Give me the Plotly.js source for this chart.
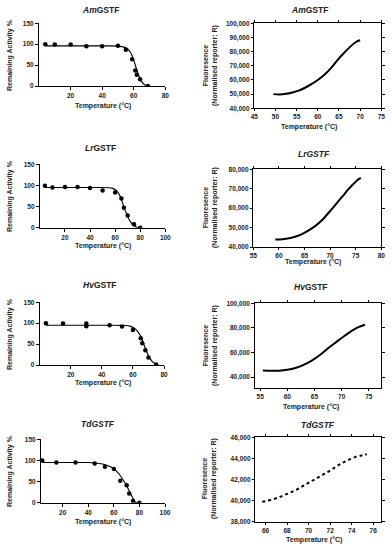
<!DOCTYPE html>
<html><head><meta charset="utf-8">
<script src="https://cdn.plot.ly/plotly-3.0.1.min.js"></script>
<style>html,body{margin:0;padding:0;background:#fff}#chart{width:392px;height:550px}</style>
</head><body><div id="chart"></div>
<script>
// ---- Data: thermal inactivation (remaining activity %) ----
const amTemp=[4,10,20,30,40,50,55,59,61,62,64,69];
const amAct=[100,99,99,95,95,96,87,64,37,27,16,0];
const amFitT=[4,20,40,50,54,56,58,59,60,61,62,63,64,65,66,68,69.5];
const amFitA=[96,96,96,95.5,93,89,80,72,62,50,38,27,18,11,6,1,0];

const lrTemp=[4,10,20,30,40,50,60,65,67,70,75,80];
const lrAct=[99,95,96,96,94,88,83,69,47,29,8,0];
const lrFitT=[4,20,40,55,58,61,63,65,67,69.5,72,75,78,80];
const lrFitA=[95,95,95,94.5,93,88,80,67,48,30,15,5,0.5,0];

const hvTemp=[4,15,30,30,45,53,60,65,66,68,70,75];
const hvAct=[100,99,99,93,95,92,84,64,52,35,18,1];
const hvFitT=[4,20,40,55,58,61,63.5,65.5,67,68.5,70.3,72.5,75];
const hvFitA=[95,95,95,94.5,93,88,78,65,50,35,20,8,0.5];

const tdTemp=[4,15,30,45,53,60,65,70,72,75,80];
const tdAct=[100,95,95,93,85,80,52,41,22,4,0];
const tdFitT=[4,20,40,45,50,55,60,64,67,70,72.5,75,77,80];
const tdFitA=[95,95,95,94,92,88,80,68,55,40,25,10,1,0];

// ---- Data: thermal shift (fluorescence) ----
const amMeltT=[49.5,51,52.5,54,55.5,57,58.5,60,61.5,63,64.5,66,67.5,69,70];
const amMeltF=[50000,49700,50200,51200,52500,54500,57000,60000,63500,68000,73500,78500,83000,86800,88000];

const lrMeltT=[59.3,60.7,62,63.3,64.6,65.9,67.2,68.5,69.5,70.5,71.5,72.5,73.5,74.5,75.3,76];
const lrMeltF=[43900,44000,44500,45400,46800,48700,51000,54000,57000,60000,63200,66300,69500,72300,74400,75600];

const hvMeltT=[55.5,57,58.5,60,61.5,63,64.5,66,67.5,69,70.5,72,73.2,74.3];
const hvMeltF=[45500,45200,45300,46000,47500,50000,53500,58000,63500,68500,73500,78000,80800,82600];

const tdMeltT=[65.7,66,66.6,67.2,67.8,68.4,69,69.6,70.2,70.8,71.4,72,72.6,73.2,73.8,74.4,75,75.4];
const tdMeltF=[39900,39950,40100,40300,40550,40800,41100,41450,41800,42150,42500,42850,43250,43600,43900,44150,44300,44400];

const titles=['<i>Am</i>GSTF','<i>Am</i>GSTF','<i>Lr</i>GSTF','<i>LrGSTF</i>','<i>Hv</i>GSTF','<i>Hv</i>GSTF','<i>TdGSTF</i>','<i>TdGSTF</i>'];

// ---- Layout helpers ----
const W=392,H=550;
const xd=(a,b)=>[a/W,b/W];
const yd=(t,b)=>[1-b/H,1-t/H];
const FONT='Liberation Sans, Arial, sans-serif';
const tickFont={family:FONT,size:6.5,color:'#222',weight:'bold'};

const traces=[];
function actPanel(n,t,a,ft,fa){
  traces.push({x:ft,y:fa,xaxis:'x'+n,yaxis:'y'+n,mode:'lines',line:{color:'#000',width:1.1,shape:'spline'},hoverinfo:'skip'});
  traces.push({x:t,y:a,xaxis:'x'+n,yaxis:'y'+n,mode:'markers',marker:{color:'#000',symbol:'circle',size:4.5}});
}
function meltPanel(n,t,f,dotted){
  traces.push({x:t,y:f,xaxis:'x'+n,yaxis:'y'+n,mode:'lines',
    line:{color:'#000',width:2,shape:'spline',dash:dotted?'dot':'solid'}});
}
actPanel(1,amTemp,amAct,amFitT,amFitA);
meltPanel(2,amMeltT,amMeltF,false);
actPanel(3,lrTemp,lrAct,lrFitT,lrFitA);
meltPanel(4,lrMeltT,lrMeltF,false);
actPanel(5,hvTemp,hvAct,hvFitT,hvFitA);
meltPanel(6,hvMeltT,hvMeltF,false);
actPanel(7,tdTemp,tdAct,tdFitT,tdFitA);
meltPanel(8,tdMeltT,tdMeltF,true);

const layout={width:W,height:H,margin:{l:0,r:0,t:0,b:0},showlegend:false,
  paper_bgcolor:'#fff',plot_bgcolor:'#fff',font:{family:FONT,color:'#222'},annotations:[]};

function leftAxes(n,xdom,ydom,xr,xt){
  layout['xaxis'+n]={domain:xdom,range:xr,tickvals:xt,anchor:'y'+n,showgrid:false,zeroline:false,
    showline:true,linecolor:'#000',linewidth:1,ticks:'outside',ticklen:3,tickwidth:1,tickcolor:'#000',tickfont:tickFont};
  layout['yaxis'+n]={domain:ydom,range:[0,150],tickvals:[0,50,100,150],anchor:'x'+n,showgrid:false,zeroline:false,
    showline:true,linecolor:'#000',linewidth:1,ticks:'outside',ticklen:3,tickwidth:1,tickcolor:'#000',tickfont:tickFont};
}
function rightAxes(n,xdom,ydom,xr,xt,yr,yt){
  layout['xaxis'+n]={domain:xdom,range:xr,tickvals:xt,anchor:'y'+n,showgrid:false,zeroline:false,
    showline:true,mirror:'ticks',linecolor:'#000',linewidth:1,ticks:'outside',ticklen:2,tickwidth:1,tickcolor:'#000',tickfont:tickFont};
  layout['yaxis'+n]={domain:ydom,range:yr,tickvals:yt,tickformat:',d',anchor:'x'+n,showgrid:false,zeroline:false,
    showline:true,mirror:'ticks',linecolor:'#000',linewidth:1,ticks:'outside',ticklen:2.5,tickwidth:1,tickcolor:'#000',tickfont:tickFont};
}
leftAxes(1,xd(39,165.3),yd(23.3,86),[0,80],[20,40,60,80]);
leftAxes(3,xd(39.9,165.3),yd(164.3,227.7),[0,100],[20,40,60,80,100]);
leftAxes(5,xd(39.7,164),yd(302.3,365),[0,80],[20,40,60,80]);
leftAxes(7,xd(41,165),yd(439.3,502.7),[3,100],[20,40,60,80,100]);

rightAxes(2,xd(254.3,381.3),yd(23.3,108.3),[45,75],[45,50,55,60,65,70,75],[40000,100000],[40000,50000,60000,70000,80000,90000,100000]);
rightAxes(4,xd(253.3,381.3),yd(169.3,247),[55,80],[55,60,65,70,75,80],[40000,80000],[40000,50000,60000,70000,80000]);
rightAxes(6,xd(254.7,381.3),yd(303.3,388.3),[54,77.3],[55,60,65,70,75],[31000,100000],[40000,60000,80000,100000]);
rightAxes(8,xd(255.3,381.3),yd(437.3,521.7),[65.05,76.75],[66,68,70,72,74,76],[38000,46000],[38000,40000,42000,44000,46000]);

function ann(x,y,text,size,angle){
  layout.annotations.push({xref:'paper',yref:'paper',x:x/W,y:1-y/H,text:text,showarrow:false,
    xanchor:'center',yanchor:'middle',textangle:angle||0,font:{family:FONT,size:size,color:'#222',weight:'bold'}});
}
// titles
const titleY=[10,10,148,154,285,287,424,425];
const titleX=[100,309,100,314,100,311,98,318];
titles.forEach((t,i)=>ann(titleX[i],titleY[i],t,8.5));
// x-axis titles
const xtY=[106,127,245.7,262,383,407,522,540];
const xtX=[103,309,103,313,103,311,103,314];
xtY.forEach((y,i)=>ann(xtX[i],y,'Temperature (°C)',7));
// y-axis titles
[55,196,334,471].forEach(y=>ann(10,y,'Remaining Activity %',7,-90));
[66,208,346,479].forEach(y=>ann(210,y,'Fluoresence<br>(Normalised reporter: R)',7,-90));

Plotly.newPlot('chart',traces,layout,{staticPlot:true});
</script></body></html>
